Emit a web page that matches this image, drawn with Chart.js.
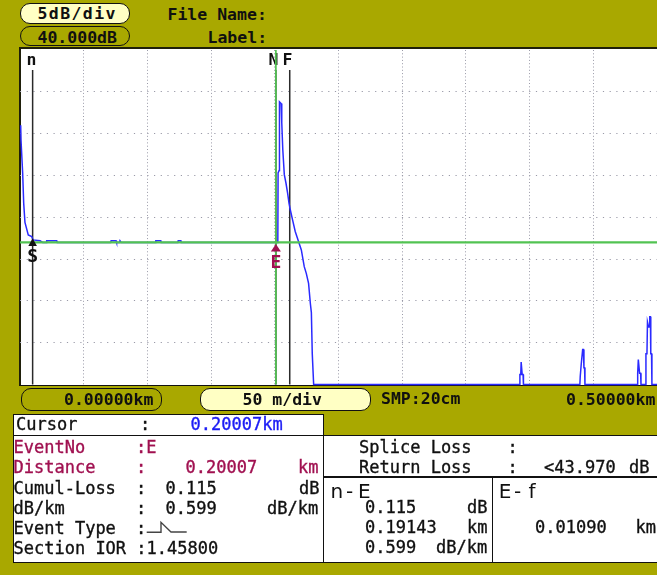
<!DOCTYPE html>
<html>
<head>
<meta charset="utf-8">
<title>OTDR trace</title>
<script src="https://cdn.jsdelivr.net/npm/chart.js@4/dist/chart.umd.min.js"></script>
<style>
  html, body { margin: 0; padding: 0; }
  body {
    width: 657px; height: 575px; overflow: hidden; position: relative;
    background: #a9a800; color: #101010;
    font-family: 'DejaVu Sans Mono', monospace;
  }
  .t { position: absolute; white-space: pre; font-size: 17px; line-height: 20px; height: 20px;
       -webkit-text-stroke: 0.35px currentColor; }
  .b { font-weight: bold; font-size: 16.5px; -webkit-text-stroke: 0; }
  .red { color: #a01050; }
  .blue { color: #1b1bf5; }
  .big { font-family: 'DejaVu Sans', sans-serif; font-size: 20px; line-height: 24px; height: 24px; -webkit-text-stroke: 0; }
  .pill { position: absolute; box-sizing: border-box; border: 1.6px solid #111; border-radius: 10px; }
  .frame {
    position: absolute; left: 19px; top: 47px; width: 660px; height: 339px; box-sizing: border-box;
    background: #fff; border-top: 2.5px solid #1f1f0a; border-left: 2px solid #1f1f0a; border-bottom: 1px solid #111;
  }
  #plot { position: absolute; left: 0; top: 0; }
  .box { position: absolute; box-sizing: border-box; background: #fff; border: 1.5px solid #111; }
  .ln { position: absolute; background: #111; }
</style>
</head>
<body>

<!-- header -->
<div class="pill" style="left:20px;top:3px;width:110px;height:21px;background:#ffffc4"></div>
<div class="t b" style="left:37.5px;top:4px;letter-spacing:1.4px">5dB/div</div>
<div class="pill" style="left:20px;top:26px;width:110px;height:20px;background:#a9a800"></div>
<div class="t b" style="left:37.5px;top:27.5px">40.000dB</div>
<div class="t b" style="left:167.5px;top:4.5px">File Name:</div>
<div class="t b" style="left:207.5px;top:27.8px">Label:</div>

<!-- trace window -->
<div class="frame"></div>
<canvas id="plot" width="657" height="390"></canvas>

<!-- distance bar -->
<div class="pill" style="left:20.5px;top:388px;width:141.5px;height:23px;background:#a9a800"></div>
<div class="t b" style="left:64px;top:389.5px">0.00000km</div>
<div class="pill" style="left:200px;top:388px;width:171px;height:23px;background:#ffffc4"></div>
<div class="t b" style="left:242.5px;top:389.5px">50 m/div</div>
<div class="t b" style="left:381px;top:388.8px">SMP:20cm</div>
<div class="t b" style="left:566px;top:389.5px">0.50000km</div>

<!-- event table -->
<div class="box" style="left:13px;top:414px;width:311px;height:23px"></div>
<div class="box" style="left:13px;top:435px;width:660px;height:128px"></div>
<div class="ln" style="left:322.5px;top:435px;width:1.5px;height:127px"></div>
<div class="ln" style="left:323px;top:476px;width:340px;height:1.5px"></div>
<div class="ln" style="left:491.8px;top:476px;width:1.5px;height:86px"></div>

<div class="t" style="left:16px;top:414.3px">Cursor</div>
<div class="t" style="left:140px;top:414.3px">:</div>
<div class="t blue" style="left:190.5px;top:414.3px">0.20007km</div>

<div class="t red" style="left:13.5px;top:437px">EventNo</div>
<div class="t red" style="left:136px;top:437px">:E</div>

<div class="t red" style="left:13.5px;top:457px">Distance</div>
<div class="t red" style="left:136px;top:457px">:</div>
<div class="t red" style="left:185.5px;top:457px">0.20007</div>
<div class="t red" style="left:298px;top:457px">km</div>

<div class="t" style="left:13.5px;top:477.6px">Cumul-Loss</div>
<div class="t" style="left:136px;top:477.6px">:</div>
<div class="t" style="left:165.5px;top:477.6px">0.115</div>
<div class="t" style="left:299px;top:477.6px">dB</div>

<div class="t" style="left:13.5px;top:497.6px">dB/km</div>
<div class="t" style="left:136px;top:497.6px">:</div>
<div class="t" style="left:165.5px;top:497.6px">0.599</div>
<div class="t" style="left:267px;top:497.6px">dB/km</div>

<div class="t" style="left:13.5px;top:517.6px">Event Type</div>
<div class="t" style="left:136px;top:517.6px">:</div>
<svg style="position:absolute;left:140px;top:515px" width="60" height="25">
  <polyline points="6.7,17.3 21,17.3 21,7.3 31,17 46.7,17" fill="none" stroke="#444" stroke-width="1.4"/>
</svg>

<div class="t" style="left:13.5px;top:537.6px">Section IOR :1.45800</div>

<div class="t" style="left:359px;top:437px">Splice Loss</div>
<div class="t" style="left:507.6px;top:437px">:</div>
<div class="t" style="left:359px;top:457px">Return Loss</div>
<div class="t" style="left:507.6px;top:457px">:</div>
<div class="t" style="left:544px;top:457px">&lt;43.970</div>
<div class="t" style="left:629px;top:457px">dB</div>

<div class="t big" style="left:330.5px;top:479.2px">n</div>
<div class="t big" style="left:346px;top:479.2px">-</div>
<div class="t big" style="left:358px;top:479.2px">E</div>
<div class="t" style="left:365px;top:497px">0.115</div>
<div class="t" style="left:467px;top:497px">dB</div>
<div class="t" style="left:365px;top:517px">0.19143</div>
<div class="t" style="left:467px;top:517px">km</div>
<div class="t" style="left:365px;top:537px">0.599</div>
<div class="t" style="left:436px;top:537px">dB/km</div>

<div class="t big" style="left:498.7px;top:479.2px">E</div>
<div class="t big" style="left:514px;top:479.2px">-</div>
<div class="t big" style="left:528.5px;top:479.2px">f</div>
<div class="t" style="left:535px;top:517px">0.01090</div>
<div class="t" style="left:635.5px;top:517px">km</div>

<script>
// Backscatter trace: distance (m) and level (dB)
const traceDistanceM = [
  -0.75, -0.5, 0.8, 1.6, 2.6, 5.2, 7.9, 8.9, 14.5, 16.5,
  19.3, 19.7, 27.6, 28.0, 70.0, 70.4, 74.3, 74.7, 77.1, 77.4,
  78.0, 78.3, 105.3, 105.6, 109.5, 109.8, 122.9, 123.2, 125.3, 125.6,
  201.6, 201.8, 202.6, 202.9, 204.2, 204.7, 205.5, 206.7, 208.0, 209.3,
  210.4, 211.4, 213.2, 215.3, 217.9, 220.1, 222.4, 224.0, 225.8, 227.2,
  228.0, 228.7, 229.8,
  391.9, 392.1, 392.8, 393.1, 393.5, 393.9, 394.6, 394.9,
  439.3, 439.6, 440.4, 441.5, 442.1, 442.5, 443.0, 443.3,
  484.5, 484.8, 485.3, 485.8, 486.3, 487.1, 487.4,
  491.0, 491.3, 492.1, 492.5, 493.4, 493.9, 494.3, 494.8, 495.1, 495.7, 496.0, 500.0
];
const traceLevelDb = [
  31.0, 29.2, 25.3, 21.7, 19.4, 17.9, 17.7, 17.3, 17.2, 17.0,
  17.0, 17.2, 17.2, 17.0, 17.0, 17.2, 17.2, 17.0, 17.0, 17.2,
  17.2, 17.0, 17.0, 17.2, 17.2, 17.0, 17.0, 17.2, 17.2, 17.0,
  17.0, 25.3, 25.6, 33.8, 33.6, 31.3, 28.1, 25.1, 24.1, 22.9,
  21.7, 20.9, 19.7, 18.3, 17.1, 16.1, 14.1, 13.3, 12.1, 9.7,
  8.6, 3.7, 0.0,
  0.0, 1.2, 1.2, 2.7, 2.7, 1.2, 1.2, 0.0,
  0.0, 1.0, 2.5, 4.2, 4.2, 2.0, 2.0, 0.0,
  0.0, 1.35, 3.0, 3.0, 1.35, 1.35, 0.0,
  0.0, 3.7, 3.7, 7.5, 6.9, 6.9, 8.1, 8.1, 3.7, 3.7, 0.0, 0.0
];

// Cursor and section readings (km)
const cursorKm = 0.20007;
const nToEventKm = 0.19143;
const eventToFKm = 0.01090;
const cursorLevelDb = 17.0;

// Markers along the fibre (m)
const markerNames = ['n', 'N', 'F'];
const markerDistM = [
  (cursorKm - nToEventKm) * 1000,
  cursorKm * 1000,
  (cursorKm + eventToFKm) * 1000
];
// Detected events: start of fibre and the reflective event under the cursor
const eventNames = ['S', 'E'];
const eventDistM = [markerDistM[0], cursorKm * 1000];

// Screen span: 10 horizontal divisions, 8 vertical divisions of 5 dB
const xDivisions = 10;
const yTopDb = 40;

const overlay = {
  id: 'otdrOverlay',
  beforeDatasetsDraw(chart) {
    const { ctx, chartArea: a, scales: { x } } = chart;
    ctx.save();
    ctx.strokeStyle = '#2a2a2a';
    ctx.lineWidth = 1.5;
    markerDistM.forEach((d) => {
      const px = x.getPixelForValue(d);
      ctx.beginPath();
      ctx.moveTo(px, 70);
      ctx.lineTo(px, a.bottom);
      ctx.stroke();
    });
    ctx.restore();
  },
  afterDatasetsDraw(chart) {
    const { ctx, chartArea: a, scales: { x, y } } = chart;
    ctx.save();
    // marker letters
    ctx.fillStyle = '#111';
    ctx.font = 'bold 16.5px "DejaVu Sans Mono"';
    ctx.textAlign = 'center';
    ctx.textBaseline = 'alphabetic';
    markerNames.forEach((name, i) => {
      const px = x.getPixelForValue(markerDistM[i]);
      ctx.fillText(name, px - (i === 0 ? 1.2 : 2.3), 65);
    });
    // cursor cross
    const cx = x.getPixelForValue(cursorKm * 1000);
    const cy = y.getPixelForValue(cursorLevelDb);
    ctx.strokeStyle = '#52c352';
    ctx.lineWidth = 1.7;
    ctx.beginPath();
    ctx.moveTo(cx, a.top);
    ctx.lineTo(cx, a.bottom);
    ctx.stroke();
    ctx.lineWidth = 2.2;
    ctx.beginPath();
    ctx.moveTo(a.left, cy);
    ctx.lineTo(a.right, cy);
    ctx.stroke();
    // event flags
    const sx = x.getPixelForValue(eventDistM[0]);
    ctx.fillStyle = '#111';
    ctx.beginPath();
    ctx.moveTo(sx, cy - 4.2);
    ctx.lineTo(sx + 4.3, cy + 3.5);
    ctx.lineTo(sx - 4.3, cy + 3.5);
    ctx.closePath();
    ctx.fill();
    ctx.font = 'bold 18px "DejaVu Sans Mono"';
    ctx.fillText(eventNames[0], sx, cy + 19.5);

    const ex = x.getPixelForValue(eventDistM[1]);
    ctx.fillStyle = '#a01050';
    ctx.beginPath();
    ctx.moveTo(ex, cy + 1.5);
    ctx.lineTo(ex + 5, cy + 9.2);
    ctx.lineTo(ex - 5, cy + 9.2);
    ctx.closePath();
    ctx.fill();
    ctx.fillText(eventNames[1], ex, cy + 25.8);
    ctx.restore();
  }
};

const hideEdge = (last) => (c) => (c.index === 0 || c.index === last) ? 'rgba(0,0,0,0)' : '#9a9aa8';

new Chart(document.getElementById('plot'), {
  type: 'line',
  data: {
    datasets: [{
      data: traceDistanceM.map((d, i) => ({ x: d, y: traceLevelDb[i] })),
      borderColor: '#2a2aff',
      borderWidth: 1.5,
      pointRadius: 0,
      tension: 0,
      fill: false,
      clip: 3
    }]
  },
  options: {
    responsive: false,
    animation: false,
    devicePixelRatio: 1,
    events: [],
    layout: { padding: { left: 20, top: 50, right: 0, bottom: 5.4 } },
    plugins: { legend: { display: false }, tooltip: { enabled: false } },
    scales: {
      x: {
        type: 'linear',
        min: -1.3,
        max: 500,
        afterBuildTicks: (s) => {
          const step = (s.max - s.min) / xDivisions;
          const ticks = [];
          for (let k = 0; k <= xDivisions; k++) ticks.push({ value: s.min + k * step });
          s.ticks = ticks;
        },
        ticks: { display: false },
        grid: { drawTicks: false, lineWidth: 1, color: hideEdge(xDivisions) },
        border: { display: false, dash: [1, 2.3] }
      },
      y: {
        min: 0,
        max: yTopDb,
        ticks: { display: false, stepSize: 5 },
        grid: { drawTicks: false, lineWidth: 1, color: hideEdge(8) },
        border: { display: false, dash: [1.2, 5.5] }
      }
    }
  },
  plugins: [overlay]
});
</script>
</body>
</html>
